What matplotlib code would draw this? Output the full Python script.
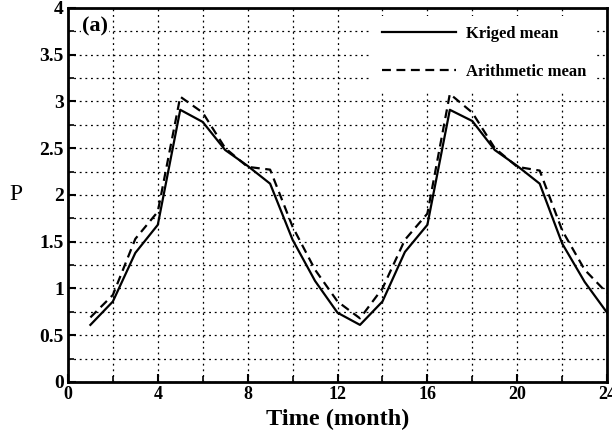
import numpy as np
import matplotlib
matplotlib.use("Agg")
import matplotlib.pyplot as plt
from matplotlib.ticker import MultipleLocator

# monthly values
months = list(range(1, 25))
kriged = [0.61, 0.86, 1.38, 1.68, 2.91, 2.78, 2.48, 2.31, 2.12, 1.52, 1.08, 0.74,
          0.61, 0.86, 1.39, 1.68, 2.91, 2.79, 2.48, 2.31, 2.12, 1.48, 1.07, 0.74]
arith = [0.69, 0.93, 1.53, 1.82, 3.05, 2.88, 2.50, 2.30, 2.27, 1.66, 1.20, 0.86,
         0.68, 1.00, 1.52, 1.80, 3.08, 2.88, 2.50, 2.30, 2.26, 1.62, 1.20, 0.95]
xticks = [0, 4, 8, 12, 16, 20, 24]
yticks = [0, 0.5, 1, 1.5, 2, 2.5, 3, 3.5, 4]
ytick_labels = ['0', '0.5', '1', '1.5', '2', '2.5', '3', '3.5', '4']

plt.rcParams['font.family'] = ['Liberation Serif', 'DejaVu Serif']

fig = plt.figure(figsize=(6.12, 4.37), dpi=100)
ax = fig.add_axes([0.111, 0.126, 0.881, 0.856])

ax.plot(months, kriged, color='black', lw=1.6, label='Kriged mean')
ax.plot(months, arith, color='black', lw=1.6, ls=(0, (4, 2.5)), label='Arithmetic mean')

ax.set_xlim(0, 24)
ax.set_ylim(0, 4)
ax.set_xticks(xticks)
ax.set_xticklabels([str(t) for t in xticks], fontweight='bold', fontsize=13)
ax.set_yticks(yticks)
ax.set_yticklabels(ytick_labels, fontweight='bold', fontsize=14)
ax.xaxis.set_minor_locator(MultipleLocator(2))
ax.yaxis.set_minor_locator(MultipleLocator(0.25))
ax.tick_params(which='major', direction='in', length=6, width=1.5, pad=3)
ax.tick_params(which='minor', direction='in', length=4, width=1.2)

ax.grid(True, which='both', color='black', ls=(0, (1.5, 3)), lw=0.9)
ax.set_axisbelow(True)

for s in ax.spines.values():
    s.set_linewidth(2)

ax.set_xlabel('Time (month)', fontsize=17.5, fontweight='bold', labelpad=4)
ax.set_ylabel('P', fontsize=17, rotation=0, labelpad=17, va='center')

ax.text(0.026, 0.978, '(a)', transform=ax.transAxes, fontsize=16,
        fontweight='bold', va='top', ha='left',
        bbox=dict(facecolor='white', edgecolor='none', pad=1))

leg = ax.legend(loc='upper right', bbox_to_anchor=(0.995, 1.0), frameon=True,
                fancybox=False, edgecolor='none', facecolor='white', framealpha=1,
                handlelength=4.4, handletextpad=0.6, labelspacing=1.3,
                borderpad=0.6, prop={'weight': 'bold', 'size': 12})

fig.savefig('out.png', dpi=100)
